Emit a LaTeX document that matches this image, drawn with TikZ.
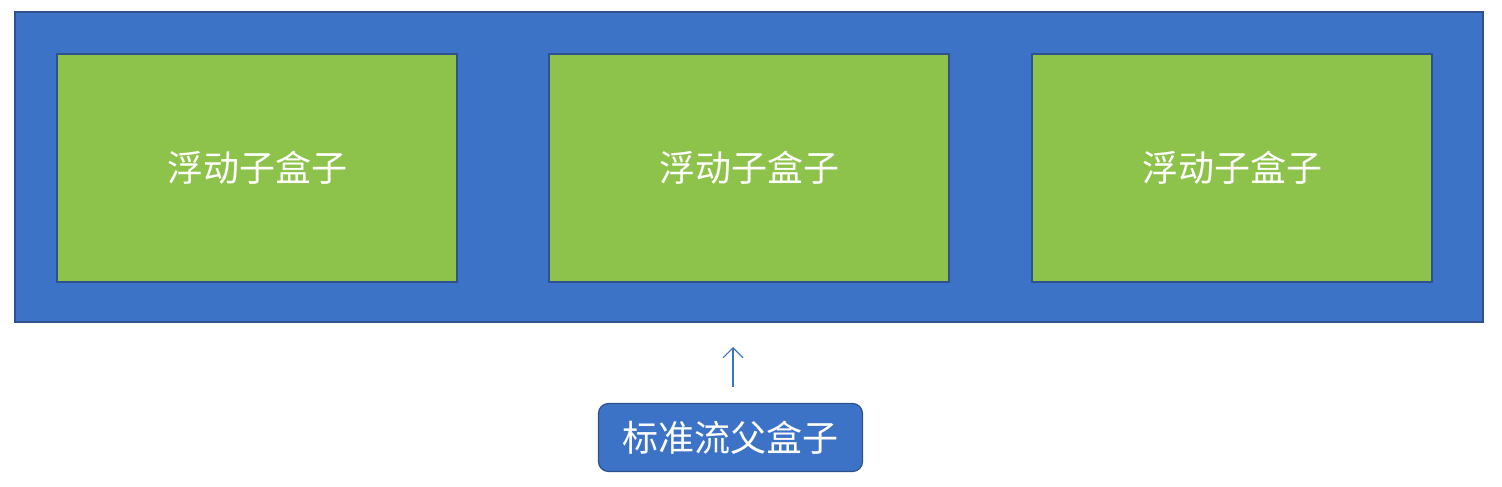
\documentclass[tikz,border=0pt]{standalone}
\usepackage{fontspec}
\usetikzlibrary{arrows.meta}
\newfontfamily\cjk{Noto Sans CJK SC}
\definecolor{boxblue}{HTML}{3C73C6}
\definecolor{boxgreen}{HTML}{8DC34B}
\definecolor{edgeblue}{HTML}{2F528F}
\tikzset{
  parentbox/.style={draw=edgeblue,line width=1.5pt,fill=boxblue},
  floatbox/.style={draw=edgeblue,line width=1.5pt,fill=boxgreen,minimum width=400pt,minimum height=228pt,
    text=white,font=\cjk\fontsize{36}{42}\selectfont},
}
\begin{document}
\begin{tikzpicture}[x=1pt,y=-1pt]
  \useasboundingbox (0,0) rectangle (1502,487);
  \node[parentbox,minimum width=1468pt,minimum height=310pt] (parent) at (749,167) {};
  \node[floatbox] (childA) at (257,168) {浮动子盒子};
  \node[floatbox] (childB) at (749,168) {浮动子盒子};
  \node[floatbox] (childC) at (1232,168) {浮动子盒子};
  \node[parentbox,rounded corners=10pt,line width=1.2pt,minimum width=264pt,minimum height=68pt,
    text=white,font=\cjk\fontsize{36}{42}\selectfont] (label) at (730.5,437.5) {标准流父盒子};
  \coordinate (tip) at (733,347);
  \draw[boxblue,line width=1.2pt,-{Straight Barb[length=10pt,width=20pt]}] (label.north -| tip) ++(0,-16) -- (tip);
\end{tikzpicture}
\end{document}
